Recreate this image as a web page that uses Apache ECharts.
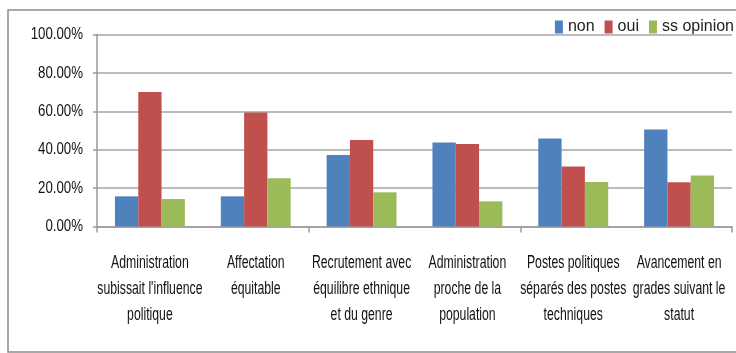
<!DOCTYPE html>
<html>
<head>
<meta charset="utf-8">
<style>
  html, body { margin: 0; padding: 0; background: #fff; }
  #chart { width: 736px; height: 353px; }
</style>
<script src="https://cdn.jsdelivr.net/npm/echarts@6/dist/echarts.min.js"></script>
</head>
<body>
<div id="chart"></div>
<script>
// Survey answers per statement, in percent
const categories = [
  "Administration\nsubissait l'influence\npolitique",
  "Affectation\néquitable",
  "Recrutement avec\néquilibre ethnique\net du genre",
  "Administration\nproche de la\npopulation",
  "Postes politiques\nséparés des postes\ntechniques",
  "Avancement en\ngrades suivant le\nstatut"
];
const nonValues = [15.7, 15.7, 37.2, 43.8, 45.8, 50.5];
const ouiValues = [70.0, 59.4, 45.0, 43.0, 31.2, 23.0];
const ssOpinionValues = [14.3, 25.1, 17.8, 13.1, 23.2, 26.5];
const seriesNames = ["non", "oui", "ss opinion"];
const yTicks = [0, 20, 40, 60, 80, 100];

const FONT = "'Liberation Sans', Arial, sans-serif";
const chart = echarts.init(document.getElementById('chart'), null, { renderer: 'canvas' });

const makeBar = (name, data, color) => ({
  name: name,
  type: 'bar',
  data: data,
  barWidth: 23.3,
  barGap: '0%',
  itemStyle: { color: color },
  emphasis: { disabled: true }
});

chart.setOption({
  animation: false,
  textStyle: { fontFamily: FONT },
  legend: {
    data: seriesNames,
    right: 2,
    top: 19,
    padding: 0,
    itemWidth: 8,
    itemHeight: 13,
    itemGap: 10,
    icon: 'rect',
    textStyle: { fontFamily: FONT, fontSize: 16, color: '#222' }
  },
  grid: { left: 97, right: 4, top: 34.5, bottom: 126.5, containLabel: false },
  xAxis: {
    type: 'category',
    data: categories,
    boundaryGap: true,
    axisLine: { lineStyle: { color: '#9a9a9a', width: 1.5 } },
    axisTick: { show: true, length: 6, alignWithLabel: false, lineStyle: { color: '#9a9a9a', width: 1.5 } },
    axisLabel: { show: false }
  },
  yAxis: {
    type: 'value',
    min: 0,
    max: 100,
    interval: 20,
    axisLine: { show: true, lineStyle: { color: '#9a9a9a', width: 1.5 } },
    axisTick: { show: true, length: 4, lineStyle: { color: '#9a9a9a', width: 1.5 } },
    splitLine: { lineStyle: { color: '#a6a6a6', width: 1.5 } },
    axisLabel: { show: false }
  },
  series: [
    makeBar(seriesNames[0], nonValues, '#4F81BD'),
    makeBar(seriesNames[1], ouiValues, '#C0504D'),
    makeBar(seriesNames[2], ssOpinionValues, '#9BBB59')
  ]
});

// Axis labels in a compressed face: positions come from the axes themselves
const zeroY = chart.convertToPixel({ yAxisIndex: 0 }, 0);
const labelGraphics = [{
  type: 'rect',
  shape: { x: 8, y: 10, width: 740, height: 342 },
  style: { fill: 'none', stroke: '#8a8a8a', lineWidth: 1.5 },
  silent: true
}];
categories.forEach((name, i) => {
  labelGraphics.push({
    type: 'text',
    x: chart.convertToPixel({ xAxisIndex: 0 }, i),
    y: zeroY + 24,
    scaleX: 0.7,
    silent: true,
    style: {
      text: name,
      fontFamily: FONT,
      fontSize: 17.5,
      lineHeight: 25.7,
      fill: '#111',
      align: 'center',
      verticalAlign: 'top'
    }
  });
});
yTicks.forEach(v => {
  labelGraphics.push({
    type: 'text',
    x: 83,
    y: chart.convertToPixel({ yAxisIndex: 0 }, v),
    scaleX: 0.78,
    silent: true,
    style: {
      text: v.toFixed(2) + '%',
      fontFamily: FONT,
      fontSize: 17,
      fill: '#111',
      align: 'right',
      verticalAlign: 'middle'
    }
  });
});
chart.setOption({ graphic: labelGraphics });
</script>
</body>
</html>
